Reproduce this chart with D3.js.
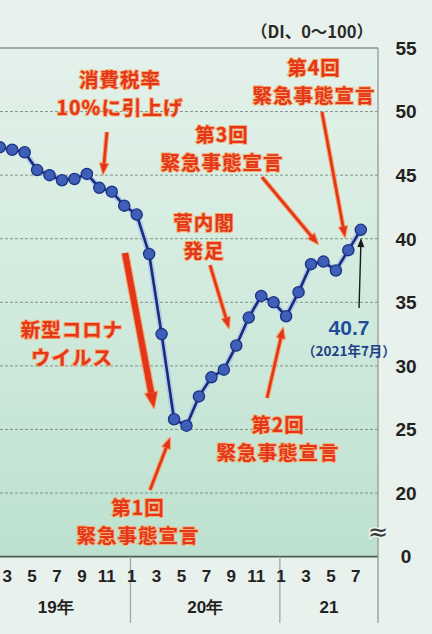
<!DOCTYPE html>
<html>
<head>
<meta charset="utf-8">
<script src="https://d3js.org/d3.v7.min.js"></script>
<style>
  body { margin: 0; background: #e9f1ed; }
  svg { display: block; }
  .jp { font-family: "Noto Sans CJK JP", sans-serif; font-weight: bold; }
  .num { font-family: "Liberation Sans", Arial, sans-serif; font-weight: bold; }
</style>
</head>
<body>
<div id="chart"></div>
<script>
// month index: 0 = Jan 2019
let months = d3.range(1, 31);
let values = [47.2, 47.0, 46.8, 45.4, 45.0, 44.6, 44.7, 45.1, 44.0, 43.7, 42.6,
  41.9, 38.8, 32.5, 25.8, 25.3, 27.6, 29.1, 29.7, 31.6, 33.8, 35.5, 35.0,
  33.9, 35.8, 38.0, 38.2, 37.5, 39.1, 40.7];

let yTicks = [55, 50, 45, 40, 35, 30, 25, 20, 15];
let yTickLabels = ['55', '50', '45', '40', '35', '30', '25', '20', '0'];
let monthTicks = [2, 4, 6, 8, 10, 12, 14, 16, 18, 20, 22, 24, 26, 28, 30];
let monthTickLabels = ['3', '5', '7', '9', '11', '1', '3', '5', '7', '9', '11', '1', '3', '5', '7'];
let yearLabels = ['19年', '20年', '21'];
let yearStarts = [0, 12, 24];

// annotations, placed in (month index, DI) units
let annoLines = [
  ['消費税率', '10%に引上げ'],
  ['第4回', '緊急事態宣言'],
  ['第3回', '緊急事態宣言'],
  ['菅内閣', '発足'],
  ['新型コロナ', 'ウイルス'],
  ['第1回', '緊急事態宣言'],
  ['第2回', '緊急事態宣言']
];
let annoAt = [[10.66, 52.48], [26.24, 53.43], [18.85, 48.16], [17.41, 41.24],
  [6.8, 32.82], [12.1, 18.82], [23.35, 25.35]];
let arrowFrom = [[9.61, 48.39], [26.88, 49.97], [22.06, 44.85], [17.89, 37.93],
  [11.06, 38.88], [13.07, 20.24], [22.47, 27.47]];
let arrowTo = [[9.3, 45.09], [28.73, 40.13], [26.56, 39.58], [19.41, 32.98],
  [13.39, 26.68], [14.67, 24.33], [23.76, 32.98]];
let arrowWide = [false, false, false, false, true, false, false];

let lastLabel = ['40.7', '（2021年7月）'];
let lastAt = [29.05, 33.06];
let lastArrow = [[29.86, 34.55], [30.02, 40.06]];

let W = 432, H = 634;
let plotRight = 378, plotTop = 48, plotBottom = 556.6, chartBottom = 623;

let svg = d3.select('#chart').append('svg')
  .attr('width', W).attr('height', H);

let defs = svg.append('defs');
let grad = defs.append('linearGradient').attr('id', 'bg')
  .attr('x1', 0).attr('y1', 0).attr('x2', 0).attr('y2', 1);
grad.append('stop').attr('offset', '0%').attr('stop-color', '#e3f1ea');
grad.append('stop').attr('offset', '45%').attr('stop-color', '#d3ebdf');
grad.append('stop').attr('offset', '100%').attr('stop-color', '#bde1cf');

svg.append('rect').attr('width', W).attr('height', H).attr('fill', '#e9f1ed');

let x = d3.scaleLinear().domain([12, 30]).range([136.7, 360.8]);
let y = d3.scaleLinear().domain([15, 55]).range([plotBottom, plotTop]);

svg.append('rect')
  .attr('x', 0).attr('y', plotTop)
  .attr('width', plotRight).attr('height', plotBottom - plotTop)
  .attr('fill', 'url(#bg)');

// grid
svg.append('g').selectAll('line')
  .data(yTicks.filter(d => d > 15 && d < 55))
  .enter().append('line')
  .attr('x1', 0).attr('x2', plotRight)
  .attr('y1', d => y(d)).attr('y2', d => y(d))
  .attr('stroke', '#7f948a').attr('stroke-width', 1)
  .attr('stroke-dasharray', '3,2');

// frame
svg.append('line').attr('x1', 0).attr('x2', plotRight)
  .attr('y1', y(55)).attr('y2', y(55))
  .attr('stroke', '#5d6662').attr('stroke-width', 1.2);
svg.append('line').attr('x1', 0).attr('x2', plotRight)
  .attr('y1', y(15)).attr('y2', y(15))
  .attr('stroke', '#4f5a55').attr('stroke-width', 1.6);
svg.append('line').attr('x1', plotRight).attr('x2', plotRight)
  .attr('y1', plotTop).attr('y2', chartBottom)
  .attr('stroke', '#8a958f').attr('stroke-width', 1.2);

// year separators
svg.append('g').selectAll('line')
  .data(yearStarts.filter(d => d > 0))
  .enter().append('line')
  .attr('x1', d => x(d - 0.5)).attr('x2', d => x(d - 0.5))
  .attr('y1', plotBottom).attr('y2', chartBottom)
  .attr('stroke', '#9aa39e').attr('stroke-width', 1.2);

// y tick labels
svg.append('g').selectAll('text')
  .data(yTicks)
  .enter().append('text')
  .attr('class', 'num')
  .attr('x', 406).attr('y', d => y(d))
  .attr('dy', '0.36em')
  .attr('text-anchor', 'middle')
  .attr('font-size', 19)
  .attr('fill', '#222')
  .text((d, i) => yTickLabels[i]);

// axis break mark
svg.append('text')
  .attr('x', plotRight).attr('y', (y(20) + y(15)) / 2 + 7)
  .attr('dy', '0.36em')
  .attr('text-anchor', 'middle')
  .attr('font-family', 'DejaVu Sans')
  .attr('font-size', 24)
  .attr('fill', '#333')
  .attr('stroke', '#e9f1ed').attr('stroke-width', 3)
  .attr('paint-order', 'stroke')
  .text('≈');

// unit label
svg.append('text')
  .attr('class', 'jp')
  .attr('x', 312).attr('y', 32)
  .attr('dy', '0.36em')
  .attr('text-anchor', 'middle')
  .attr('font-size', 16.5)
  .attr('font-weight', 500)
  .attr('fill', '#2a2a2a')
  .text('（DI、0～100）');

// month labels
svg.append('g').selectAll('text')
  .data(monthTicks)
  .enter().append('text')
  .attr('class', 'num')
  .attr('x', d => x(d) - 5).attr('y', 576)
  .attr('dy', '0.36em')
  .attr('text-anchor', 'middle')
  .attr('font-size', 17)
  .attr('fill', '#222')
  .text((d, i) => monthTickLabels[i]);

// year labels
svg.append('g').selectAll('text')
  .data(yearStarts)
  .enter().append('text')
  .attr('class', 'num')
  .attr('x', d => (x(d - 0.5) + Math.min(x(d + 11.5), plotRight)) / 2)
  .attr('y', 607)
  .attr('dy', '0.36em')
  .attr('text-anchor', 'middle')
  .attr('font-size', 17)
  .attr('fill', '#222')
  .text((d, i) => yearLabels[i]);

// arrows
function drawArrow(g, p0, p1, color, edge, w, head) {
  let x0 = x(p0[0]), y0 = y(p0[1]), x1 = x(p1[0]), y1 = y(p1[1]);
  let a = Math.atan2(y1 - y0, x1 - x0);
  let hl = head * 1.3;
  let bx = x1 - hl * Math.cos(a), by = y1 - hl * Math.sin(a);
  let px = -Math.sin(a) * head / 2, py = Math.cos(a) * head / 2;
  let tri = 'M' + x1 + ',' + y1 + 'L' + (bx + px) + ',' + (by + py) +
    'L' + (bx - px) + ',' + (by - py) + 'Z';
  if (edge) {
    g.append('line').attr('x1', x0).attr('y1', y0).attr('x2', bx).attr('y2', by)
      .attr('stroke', edge).attr('stroke-width', w + 2.2);
    g.append('path').attr('d', tri).attr('fill', edge)
      .attr('stroke', edge).attr('stroke-width', 2.2).attr('stroke-linejoin', 'round');
  }
  g.append('line').attr('x1', x0).attr('y1', y0).attr('x2', bx).attr('y2', by)
    .attr('stroke', color).attr('stroke-width', w);
  g.append('path').attr('d', tri).attr('fill', color);
}

let arrows = svg.append('g');
arrowFrom.forEach((p, i) => {
  drawArrow(arrows, p, arrowTo[i], '#e2351b', '#f4a268',
    arrowWide[i] ? 6 : 2.6, arrowWide[i] ? 12 : 8);
});

// data line
let line = d3.line().x((d, i) => x(months[i])).y(d => y(d));
svg.append('path').datum(values)
  .attr('d', line)
  .attr('fill', 'none')
  .attr('stroke', '#a9c4ea')
  .attr('stroke-width', 6)
  .attr('stroke-linejoin', 'round')
  .attr('opacity', 0.8);
svg.append('path').datum(values)
  .attr('d', line)
  .attr('fill', 'none')
  .attr('stroke', '#1b2a7a')
  .attr('stroke-width', 2.6)
  .attr('stroke-linejoin', 'round');

svg.append('g').selectAll('circle')
  .data(values)
  .enter().append('circle')
  .attr('cx', (d, i) => x(months[i]))
  .attr('cy', d => y(d))
  .attr('r', 5.6)
  .attr('fill', '#3d5fb8')
  .attr('stroke', '#1e3185')
  .attr('stroke-width', 1.3);

// annotation texts
let notes = svg.append('g');
annoLines.forEach((lines, i) => {
  let t = notes.append('text')
    .attr('class', 'jp')
    .attr('text-anchor', 'middle')
    .attr('font-size', 19.5)
    .attr('letter-spacing', 1)
    .attr('fill', '#e3361a')
    .attr('stroke', '#f6ad72')
    .attr('stroke-width', 1.8)
    .attr('paint-order', 'stroke');
  lines.forEach((s, j) => {
    t.append('tspan')
      .attr('x', x(annoAt[i][0]))
      .attr('y', y(annoAt[i][1]) + j * 28)
      .attr('dy', '0.36em')
      .text(s);
  });
});

// last value callout
drawArrow(svg.append('g'), lastArrow[0], lastArrow[1], '#1a1a1a', null, 1.4, 7);
svg.append('text')
  .attr('class', 'num')
  .attr('x', x(lastAt[0])).attr('y', y(lastAt[1]))
  .attr('dy', '0.36em')
  .attr('text-anchor', 'middle')
  .attr('font-size', 21)
  .attr('fill', '#1f4d9c')
  .text(lastLabel[0]);
svg.append('text')
  .attr('class', 'jp')
  .attr('x', x(lastAt[0])).attr('y', y(lastAt[1]) + 24)
  .attr('dy', '0.36em')
  .attr('text-anchor', 'middle')
  .attr('font-size', 13.5)
  .attr('fill', '#1f3f86')
  .text(lastLabel[1]);
</script>
</body>
</html>
